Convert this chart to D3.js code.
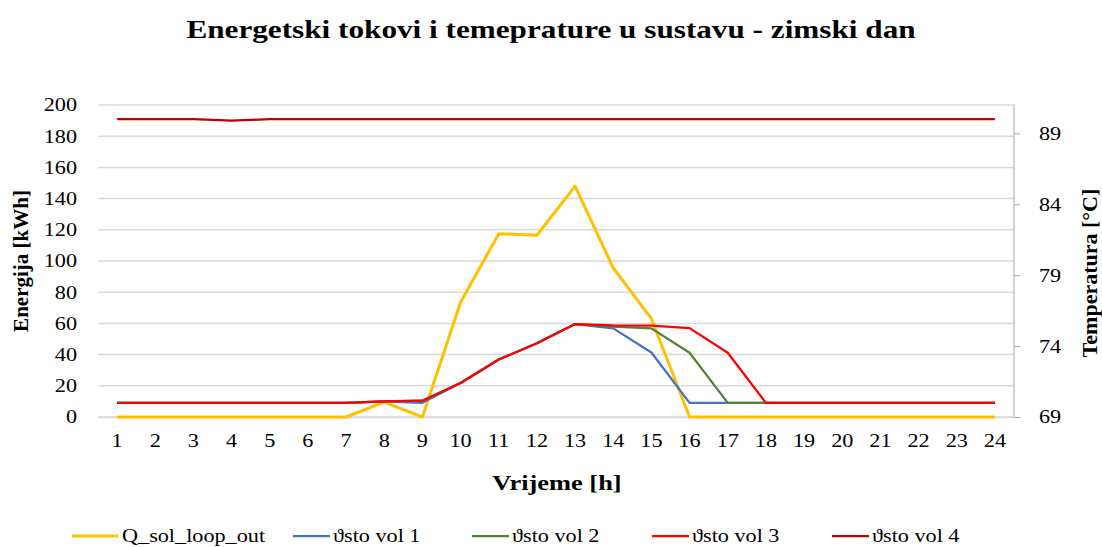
<!DOCTYPE html>
<html>
<head>
<meta charset="utf-8">
<script src="https://cdn.jsdelivr.net/npm/d3@7"></script>
<style>
  body { margin: 0; background: #fff; }
</style>
</head>
<body>
<div id="chart"></div>
<script>
const hours = d3.range(1, 25)
const qSol = [0, 0, 0, 0, 0, 0, 0, 9.5, 0, 73.5, 117.5, 116.5, 148, 95.5, 63, 0, 0, 0, 0, 0, 0, 0, 0, 0]
const vol1 = [70, 70, 70, 70, 70, 70, 70, 70.1, 70.0, 71.4, 73.05, 74.2, 75.55, 75.25, 73.55, 70, 70, 70, 70, 70, 70, 70, 70, 70]
const vol2 = [70, 70, 70, 70, 70, 70, 70, 70.1, 70.15, 71.4, 73.05, 74.2, 75.55, 75.38, 75.25, 73.53, 70, 70, 70, 70, 70, 70, 70, 70]
const vol3 = [70, 70, 70, 70, 70, 70, 70, 70.1, 70.15, 71.4, 73.05, 74.2, 75.55, 75.46, 75.45, 75.27, 73.53, 70, 70, 70, 70, 70, 70, 70]
const vol4 = [90, 90, 90, 89.9, 90, 90, 90, 90, 90, 90, 90, 90, 90, 90, 90, 90, 90, 90, 90, 90, 90, 90, 90, 90]
const leftTicks = d3.range(0, 201, 20)
const rightTicks = [69, 74, 79, 84, 89]

const series = [
  { name: 'Q_sol_loop_out', values: qSol, axis: 'left', color: '#FFC000', w: 3 },
  { name: 'ϑsto vol 1', values: vol1, axis: 'right', color: '#4472C4', w: 2.25 },
  { name: 'ϑsto vol 2', values: vol2, axis: 'right', color: '#548235', w: 2.25 },
  { name: 'ϑsto vol 3', values: vol3, axis: 'right', color: '#FF0000', w: 2.25 },
  { name: 'ϑsto vol 4', values: vol4, axis: 'right', color: '#C00000', w: 2.25 }
]

const width = 1102
const height = 547
const plot = { left: 98, right: 1014, top: 105, bottom: 417 }
const stretchX = 1.2
const FONT = '"Liberation Serif", "Times New Roman", serif'

// serif font, plus widen horizontal text a bit (the original is stretched sideways)
function serif(sel) {
  sel.style('font-family', FONT).style('fill', '#000')
}
function stretch(sel) {
  sel.each(function () {
    const w = this.getComputedTextLength()
    d3.select(this)
      .attr('textLength', w * stretchX)
      .attr('lengthAdjust', 'spacingAndGlyphs')
  })
}

const svg = d3.select('#chart')
  .append('svg')
  .attr('width', width)
  .attr('height', height)

const x = d3.scaleBand()
  .domain(hours)
  .range([plot.left, plot.right])
const xc = d => x(d) + x.bandwidth() / 2

const yL = d3.scaleLinear().domain([0, 200]).range([plot.bottom, plot.top])
const yR = d3.scaleLinear().domain([69, 91]).range([plot.bottom, plot.top])

// gridlines
svg.append('g')
  .selectAll('line')
  .data(leftTicks)
  .enter()
  .append('line')
  .attr('x1', plot.left)
  .attr('x2', plot.right)
  .attr('y1', d => yL(d))
  .attr('y2', d => yL(d))
  .attr('stroke', '#d9d9d9')
  .attr('stroke-width', 1.5)

// left axis labels
const leftAxis = d3.axisLeft(yL).tickValues(leftTicks).tickSize(0).tickPadding(21)
const gL = svg.append('g')
  .attr('transform', `translate(${plot.left}, 0)`)
  .call(leftAxis)
gL.select('.domain').remove()
gL.selectAll('text').call(serif).style('font-size', '18.5px').call(stretch)

// right axis
const rightAxis = d3.axisRight(yR).tickValues(rightTicks).tickSize(6).tickPadding(19)
const gR = svg.append('g')
  .attr('transform', `translate(${plot.right}, 0)`)
  .call(rightAxis)
gR.select('.domain').attr('stroke', '#a6a6a6').attr('d', `M0,${plot.top}V${plot.bottom}`)
gR.selectAll('.tick line').attr('stroke', '#a6a6a6')
gR.selectAll('text').call(serif).style('font-size', '18.5px').call(stretch)

// bottom axis
const bottomAxis = d3.axisBottom(x).tickSize(0).tickPadding(17)
const gB = svg.append('g')
  .attr('transform', `translate(0, ${plot.bottom})`)
  .call(bottomAxis)
gB.select('.domain').attr('stroke', '#d9d9d9').attr('stroke-width', 1.5)
gB.selectAll('text').call(serif).style('font-size', '18.5px').call(stretch)

// lines
series.forEach(s => {
  const y = s.axis === 'left' ? yL : yR
  const line = d3.line()
    .x((d, i) => xc(hours[i]))
    .y(d => y(d))
  svg.append('path')
    .datum(s.values)
    .attr('d', line)
    .attr('fill', 'none')
    .attr('stroke', s.color)
    .attr('stroke-width', s.w)
    .attr('stroke-linejoin', 'round')
})

// title
svg.append('text')
  .attr('x', 551)
  .attr('y', 38)
  .attr('text-anchor', 'middle')
  .call(serif)
  .style('font-size', '26px')
  .style('font-weight', 'bold')
  .text('Energetski tokovi i temeprature u sustavu - zimski dan')
  .call(stretch)

// axis titles
svg.append('text')
  .attr('transform', `translate(28, ${(plot.top + plot.bottom) / 2}) rotate(-90)`)
  .attr('text-anchor', 'middle')
  .call(serif)
  .style('font-size', '21px')
  .style('font-weight', 'bold')
  .text('Energija  [kWh]')

svg.append('text')
  .attr('transform', `translate(1097, ${(plot.top + plot.bottom) / 2 + 12}) rotate(-90)`)
  .attr('text-anchor', 'middle')
  .call(serif)
  .style('font-size', '22px')
  .style('font-weight', 'bold')
  .text('Temperatura  [°C]')

svg.append('text')
  .attr('x', 557)
  .attr('y', 490)
  .attr('text-anchor', 'middle')
  .call(serif)
  .style('font-size', '22px')
  .style('font-weight', 'bold')
  .text('Vrijeme [h]')
  .call(stretch)

// legend
const legendX = [72, 293, 472, 652, 832]
const lg = svg.append('g')
  .selectAll('g')
  .data(series)
  .enter()
  .append('g')
  .attr('transform', (d, i) => `translate(${legendX[i]}, 536)`)
lg.append('line')
  .attr('x1', 0)
  .attr('x2', (d, i) => i === 0 ? 46 : 37)
  .attr('y1', 0)
  .attr('y2', 0)
  .attr('stroke', d => d.color)
  .attr('stroke-width', d => d.w)
lg.append('text')
  .attr('x', (d, i) => i === 0 ? 50 : 40)
  .attr('y', 6)
  .call(serif)
  .style('font-size', '18.5px')
  .text(d => d.name)
  .call(stretch)
</script>
</body>
</html>
